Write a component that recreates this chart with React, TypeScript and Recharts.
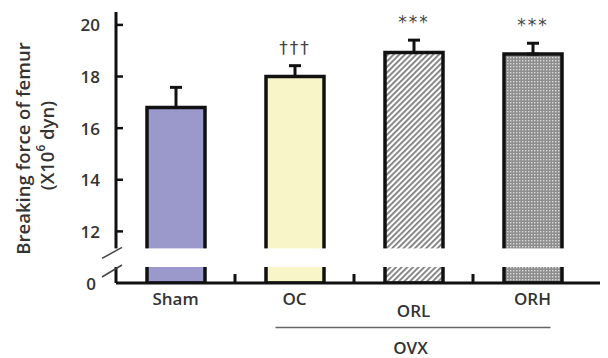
import React from "react";
import {
  BarChart,
  Bar,
  XAxis,
  YAxis,
  ErrorBar,
  LabelList,
  ReferenceArea,
  Cell,
  Label,
} from "recharts";

const groups = ["Sham", "OC", "ORL", "ORH"];
const means = [16.8, 18.0, 18.93, 18.87];
const sems = [0.78, 0.42, 0.48, 0.42];
const marks = ["", "†††", "***", "***"];
const fills = ["#9b98cb", "#f8f6c9", "url(#hatch)", "url(#dots)"];
const yTicks = [10, 12, 14, 16, 18, 20];
const axisBase = 10; // bottom of the broken axis, shown as "0"
const breakRange = [10.62, 11.34];
const ovxLabel = "OVX";

// groups sit in the middle of unit slots 0..4
const data = groups.map((g, i) => ({
  group: g,
  pos: i + 0.5,
  mean: means[i],
  err: [0, sems[i]],
  mark: marks[i],
}));
const xTicks = data.map((d) => d.pos);

const font = "'Open Sans', 'DejaVu Sans', sans-serif";
const ink = "#333";
const halfSlot = 59.5;

function YTick({ x, y, payload }: any) {
  const v = payload.value;
  return (
    <g>
      {v !== axisBase && (
        <line x1={x + 16} x2={x + 23} y1={y} y2={y} stroke="#111" strokeWidth={2.5} />
      )}
      <text
        x={v === axisBase ? x - 4 : x}
        y={y}
        textAnchor="end"
        dominantBaseline="central"
        fontFamily={font}
        fontSize={17}
        fontWeight={600}
        fill={ink}
      >
        {v === axisBase ? "0" : v}
      </text>
    </g>
  );
}

function XTick({ x, y, payload }: any) {
  const idx = Math.floor(payload.value);
  const name = groups[idx];
  const low = name === "ORL";
  return (
    <g>
      {idx < groups.length - 1 && (
        <line x1={x + halfSlot} x2={x + halfSlot} y1={y} y2={y - 9} stroke="#111" strokeWidth={3} />
      )}
      <text
        x={x}
        y={y + (low ? 27.5 : 15.5)}
        textAnchor="middle"
        dominantBaseline="central"
        fontFamily={font}
        fontSize={17}
        fontWeight={600}
        fill={ink}
      >
        {name}
      </text>
      {low && (
        <g>
          <line x1={x - 138} x2={x + 137} y1={y + 44.5} y2={y + 44.5} stroke="#666" strokeWidth={1.5} />
          <text
            x={x - 3}
            y={y + 64.5}
            textAnchor="middle"
            dominantBaseline="central"
            fontFamily={font}
            fontSize={17}
            fontWeight={600}
            fill={ink}
          >
            {ovxLabel}
          </text>
        </g>
      )}
    </g>
  );
}

function BreakShape({ x, y, width, height }: any) {
  return (
    <g>
      <rect x={x - 20} y={y} width={width + 30} height={height} fill="#fff" />
      <line x1={x - 14} y1={y + 10} x2={x + 6} y2={y - 1} stroke="#444" strokeWidth={1.5} />
      <line x1={x - 14} y1={y + height + 10} x2={x + 6} y2={y + height - 2} stroke="#444" strokeWidth={1.5} />
    </g>
  );
}

function MarkLabel(p: any) {
  const vb = p.viewBox ?? p;
  const i = p.index ?? 0;
  if (!p.value) return null;
  const h = Math.abs(vb.height);
  const perUnit = h / (means[i] - axisBase);
  const top = vb.y - sems[i] * perUnit;
  return (
    <text
      x={vb.x + vb.width / 2}
      y={top - 18}
      textAnchor="middle"
      dominantBaseline="central"
      fontFamily="'DejaVu Sans', sans-serif"
      fontSize={17}
      letterSpacing={2}
      fill="#444"
    >
      {p.value}
    </text>
  );
}

function YLabel({ viewBox }: any) {
  const { x, y, height } = viewBox;
  const cy = y + height / 2;
  return (
    <g fontFamily={font} fontSize={18.5} fontWeight={600} fill={ink}>
      <text
        transform={`translate(${x + 22},${cy + 1}) rotate(-90)`}
        textAnchor="middle"
        dominantBaseline="central"
      >
        Breaking force of femur
      </text>
      <text
        transform={`translate(${x + 46},${cy - 2}) rotate(-90)`}
        textAnchor="middle"
        dominantBaseline="central"
      >
        (X10
        <tspan dy={-6} fontSize={12}>6</tspan>
        <tspan dy={6}> dyn)</tspan>
      </text>
    </g>
  );
}

export default function App() {
  return (
    <div style={{ width: 608, height: 358, background: "#fff" }}>
      <style>{"body{margin:0}"}</style>
      <svg width={0} height={0} style={{ position: "absolute" }}>
        <defs>
          <pattern id="hatch" patternUnits="userSpaceOnUse" width={4} height={4} patternTransform="rotate(45)">
            <rect width={4} height={4} fill="#fff" />
            <rect width={1.8} height={4} fill="#7d7d7d" />
          </pattern>
          <pattern id="dots" patternUnits="userSpaceOnUse" width={3} height={3}>
            <rect width={3} height={3} fill="#8e8e8e" />
            <rect width={1.4} height={1.4} fill="#d9d9d9" />
          </pattern>
        </defs>
      </svg>
      <BarChart
        width={608}
        height={358}
        data={data}
        margin={{ top: 12, right: 8, bottom: 74.5, left: 0 }}
      >
        <XAxis
          dataKey="pos"
          type="number"
          domain={[0, 4]}
          allowDataOverflow
          ticks={xTicks}
          interval={0}
          height={0.5}
          tickSize={0}
          tickMargin={0}
          tickLine={false}
          axisLine={{ stroke: "#111", strokeWidth: 3 }}
          tick={<XTick />}
          padding={{ left: 0, right: 8 }}
        />
        <YAxis
          type="number"
          domain={[axisBase, 20.5]}
          ticks={yTicks}
          interval={0}
          allowDataOverflow
          width={116}
          axisLine={{ stroke: "#111", strokeWidth: 3 }}
          tickLine={false}
          tickSize={0}
          tickMargin={16}
          tick={<YTick />}
        >
          <Label content={<YLabel />} />
        </YAxis>
        <Bar
          dataKey="mean"
          barSize={58}
          stroke="#111"
          strokeWidth={3.5}
          isAnimationActive={false}
        >
          {data.map((d, i) => (
            <Cell key={d.group} fill={fills[i]} />
          ))}
          <ErrorBar dataKey="err" direction="y" width={6} stroke="#111" strokeWidth={3} />
          <LabelList dataKey="mark" content={<MarkLabel />} />
        </Bar>
        <ReferenceArea
          y1={breakRange[0]}
          y2={breakRange[1]}
          ifOverflow="visible"
          shape={<BreakShape />}
          zIndex={1500}
        />
      </BarChart>
    </div>
  );
}
